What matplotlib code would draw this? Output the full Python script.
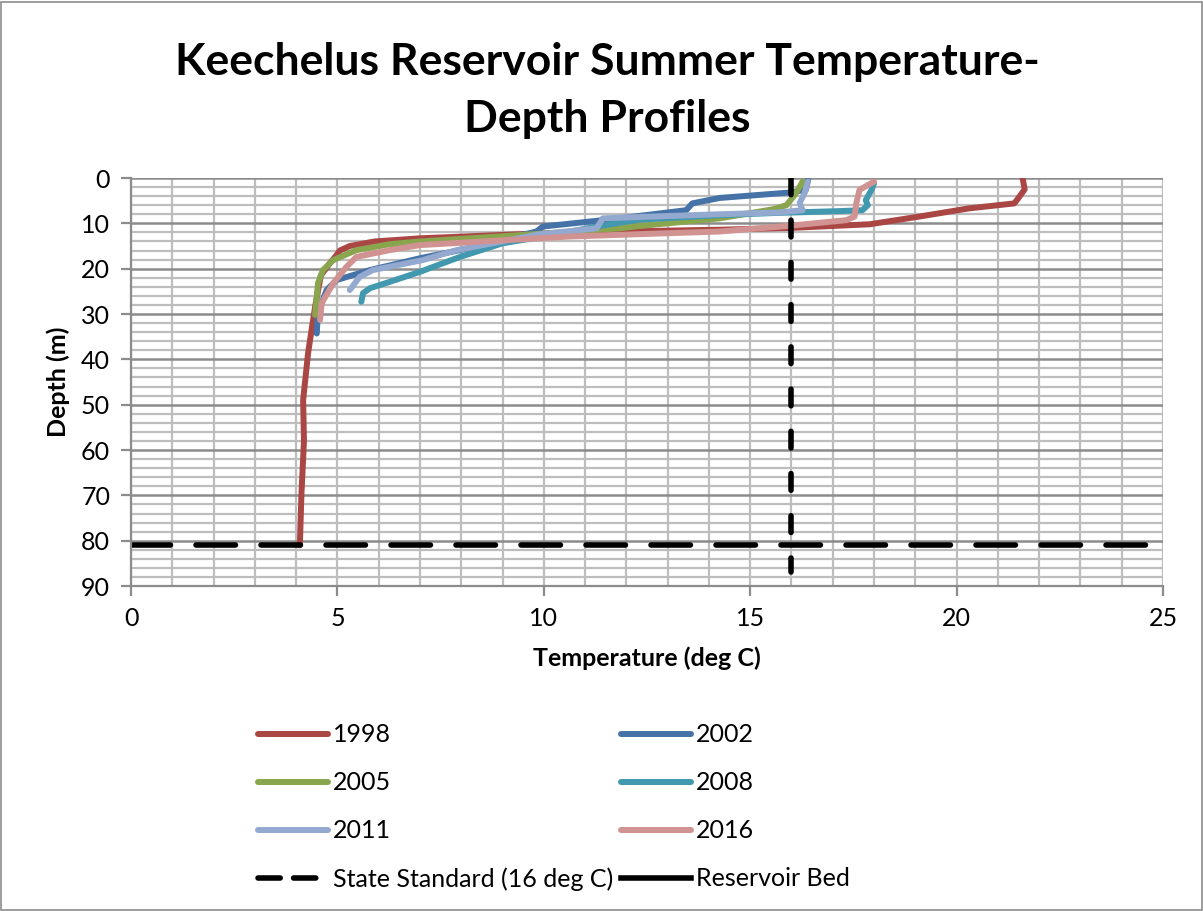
import matplotlib
matplotlib.use("Agg")
import matplotlib.pyplot as plt
from matplotlib.lines import Line2D
from matplotlib.patches import Rectangle
from matplotlib.ticker import MultipleLocator

plt.rcParams['font.family'] = ['Lato', 'DejaVu Sans']

# ---- data (temperature deg C, depth m) ----
years = ['1998', '2002', '2005', '2008', '2011', '2016']
colors = ['#AA4643', '#4572A7', '#89A54E', '#4198AF', '#93A9CF', '#D19392']

temp_1998 = [21.6, 21.65, 21.5, 21.4, 20.3, 19.1, 17.9, 16.0, 14.3, 11.8, 9.4, 7.0, 5.9, 5.3,
             5.06, 4.98, 4.8, 4.6, 4.46, 4.29, 4.17, 4.19, 4.13, 4.09]
depth_1998 = [0, 2.5, 4.4, 5.6, 6.7, 8.5, 10.2, 11.0, 11.4, 11.8, 12.4, 13.3, 14.0, 15.0,
              16.0, 17.0, 19.0, 21.5, 28.4, 38.6, 49.0, 58.0, 69.5, 81.0]

temp_2002 = [16.4, 16.35, 15.96, 14.26, 13.6, 13.45, 11.84, 9.98, 9.82, 7.97, 7.0, 5.79,
             4.98, 4.74, 4.6, 4.52, 4.5]
depth_2002 = [0.5, 2.6, 3.2, 4.4, 5.6, 7.1, 8.9, 10.7, 11.8, 15.9, 17.7, 20.3,
              22.5, 24.7, 28.0, 31.0, 34.3]

temp_2005 = [16.27, 16.1, 15.88, 15.55, 14.26, 12.3, 11.84, 9.42, 7.0, 6.27, 5.46, 4.9,
             4.65, 4.53, 4.46]
depth_2005 = [0.8, 3.5, 6.0, 6.9, 8.9, 10.6, 11.1, 12.6, 14.0, 14.6, 15.9, 18.1,
              20.3, 23.2, 30.2]

temp_2008 = [18.0, 17.94, 17.8, 17.85, 17.72, 17.17, 15.64, 14.26, 12.3, 11.28, 10.2, 9.0,
             7.97, 7.0, 6.27, 5.79, 5.62, 5.58]
depth_2008 = [1.2, 2.6, 4.9, 6.0, 7.1, 7.3, 7.7, 8.2, 9.2, 10.7, 12.6, 14.4,
              17.4, 20.7, 22.9, 24.3, 25.4, 27.3]

temp_2011 = [16.4, 16.32, 16.2, 16.27, 15.7, 14.26, 12.3, 11.43, 11.28, 9.9, 7.89, 7.07,
             5.86, 5.54, 5.3]
depth_2011 = [0.8, 3.3, 5.5, 7.1, 7.6, 8.0, 8.6, 8.9, 11.1, 12.4, 15.9, 18.1,
              20.3, 21.8, 24.7]

temp_2016 = [18.0, 17.65, 17.57, 17.53, 17.33, 15.88, 14.26, 10.63, 7.0, 6.27, 5.46, 5.22,
             4.9, 4.62, 4.58]
depth_2016 = [0.8, 2.6, 5.6, 8.5, 9.3, 10.6, 11.8, 12.9, 14.8, 15.9, 17.4, 19.6,
              23.2, 27.6, 31.3]

temps = [temp_1998, temp_2002, temp_2005, temp_2008, temp_2011, temp_2016]
depths = [depth_1998, depth_2002, depth_2005, depth_2008, depth_2011, depth_2016]

standard_temp = [16, 16]
standard_depth = [0, 87]
bed_temp = [0, 25]
bed_depth = [81, 81]

# ---- figure ----
fig = plt.figure(figsize=(12.03, 9.11), dpi=100)
fig.patches.append(Rectangle((0.001, 0.001), 0.998, 0.997, transform=fig.transFigure,
                             fill=False, edgecolor='#8c8c8c', linewidth=1.2))
ax = fig.add_axes([0.1089, 0.3567, 0.8578, 0.4479])

for t, d, c in zip(temps, depths, colors):
    ax.plot(t, d, color=c, linewidth=4.3, solid_capstyle='round', solid_joinstyle='round')

ax.plot(standard_temp, standard_depth, color='black', linewidth=4, dashes=(3, 4.6),
        dash_capstyle='round')
ax.plot(bed_temp, bed_depth, color='black', linewidth=4, dashes=(7.1, 4.6),
        dash_capstyle='round')

ax.set_xlim(0, 25)
ax.set_ylim(90, 0)
ax.xaxis.set_major_locator(MultipleLocator(5))
ax.xaxis.set_minor_locator(MultipleLocator(1))
ax.yaxis.set_major_locator(MultipleLocator(10))
ax.yaxis.set_minor_locator(MultipleLocator(2))

ax.grid(which='minor', axis='both', color='#bdbdbd', linewidth=1.6)
ax.grid(which='major', axis='x', color='#bdbdbd', linewidth=1.6)
ax.grid(which='major', axis='y', color='#8c8c8c', linewidth=1.8)
ax.set_axisbelow(True)

for s in ax.spines.values():
    s.set_color('#8c8c8c')
    s.set_linewidth(1.6)
ax.spines['top'].set_visible(False)
ax.spines['right'].set_visible(False)

ax.tick_params(which='major', direction='out', length=7, width=1.6, color='#8c8c8c',
               labelsize=18, pad=8)
ax.tick_params(which='minor', length=0)

ax.set_xlabel('Temperature (deg C)', fontsize=18, fontweight='bold', labelpad=12)
ax.set_ylabel('Depth (m)', fontsize=18, fontweight='bold', labelpad=8)

fig.text(0.505, 0.901, 'Keechelus Reservoir Summer Temperature-\nDepth Profiles',
         fontsize=32, fontweight='bold', ha='center', va='center', linespacing=1.52)

# legend: row-wise order in two columns
handles = [Line2D([], [], color=c, linewidth=4.3, solid_capstyle='round') for c in colors]
std_h = Line2D([], [], color='black', linewidth=4, dashes=(4.0, 2.4), dash_capstyle='round')
bed_h = Line2D([], [], color='black', linewidth=4)
col1 = [handles[0], handles[2], handles[4], std_h]
col2 = [handles[1], handles[3], handles[5], bed_h]
lab1 = [years[0], years[2], years[4], 'State Standard (16 deg C)']
lab2 = [years[1], years[3], years[5], 'Reservoir Bed']
fig.legend(col1 + col2, lab1 + lab2, ncol=2, loc='upper left', bbox_to_anchor=(0.206, 0.217),
           frameon=False, fontsize=18, handlelength=2.8, handletextpad=0.2,
           columnspacing=0.3, labelspacing=1.0, borderaxespad=0)

fig.savefig('out.png', dpi=100)
